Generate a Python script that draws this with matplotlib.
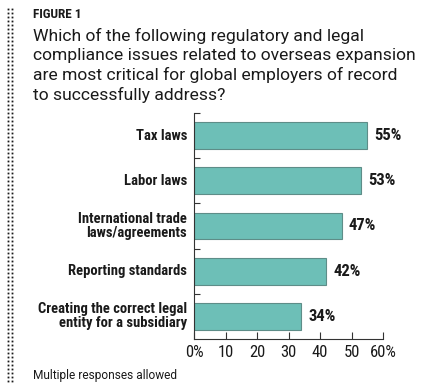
import matplotlib.pyplot as plt
import numpy as np

categories = ["Tax laws", "Labor laws", "International trade\nlaws/agreements",
              "Reporting standards", "Creating the correct legal\nentity for a subsidiary"]
values = [55, 53, 47, 42, 34]
xticks = [0, 10, 20, 30, 40, 50, 60]
xticklabels = ["0%", "10", "20", "30", "40", "50", "60%"]

title = "FIGURE 1"
question = ("Which of the following regulatory and legal\n"
            "compliance issues related to overseas expansion\n"
            "are most critical for global employers of record\n"
            "to successfully address?")
note = "Multiple responses allowed"

cond = ['Roboto Condensed', 'Encode Sans Condensed', 'DejaVu Sans']
plain = ['Roboto', 'DejaVu Sans']
plt.rcParams['font.family'] = cond
ink = '#1a1a1a'

W, H = 425, 388
fig = plt.figure(figsize=(W / 100, H / 100), dpi=100, facecolor='white')
ax = fig.add_axes([194 / W, 1 - 339 / H, (383 - 194) / W, (339 - 113) / H])

y = np.arange(len(values))
ax.barh(y, values, height=0.59, color='#6dbfb7', edgecolor='#5e8d88', linewidth=0.8)
for yi, v in zip(y, values):
    ax.text(v + 2.2, yi, "%d%%" % v, va='center', ha='left', fontsize=12,
            fontweight='bold', color=ink)

ax.set_xlim(0, 60)
ax.set_ylim(len(values) - 0.5, -0.5)
ax.set_xticks(xticks)
ax.set_xticklabels(xticklabels, fontsize=12, color=ink)
ax.set_yticks(np.arange(len(values)) - 0.5)
ax.set_yticklabels([])
for yi, c in zip(y, categories):
    ax.text(-2.2, yi, c, ha='right', va='center', fontsize=10.5, fontweight='bold',
            color=ink, linespacing=1.0)

for s in ['top', 'right']:
    ax.spines[s].set_visible(False)
for s in ['left', 'bottom']:
    ax.spines[s].set_color('#333333')
    ax.spines[s].set_linewidth(0.8)
ax.tick_params(axis='x', direction='in', length=5, width=0.8, color='#333333', pad=4)
ax.tick_params(axis='y', direction='in', length=4, width=0.8, color='#333333')

fig.text(33 / W, 1 - 14.5 / H, title, ha='left', va='center', fontsize=9.5,
         fontweight='heavy', color=ink)
fig.text(33 / W, 1 - 28 / H, question, ha='left', va='top', fontsize=12.6,
         family=plain, color=ink, linespacing=1.3)
fig.text(33 / W, 1 - 376 / H, note, ha='left', va='center', fontsize=8.6,
         family=plain, color=ink)

# dotted double rule on the left edge
dy = np.arange(9, 385, 4)
for dx in [8, 12]:
    fig.lines.append(plt.Line2D(np.full(len(dy), dx / W), 1 - dy / H, ls='none',
                                marker='s', ms=1.3, mew=0, color=ink,
                                transform=fig.transFigure))

fig.savefig('out.png', dpi=100, facecolor='white')
